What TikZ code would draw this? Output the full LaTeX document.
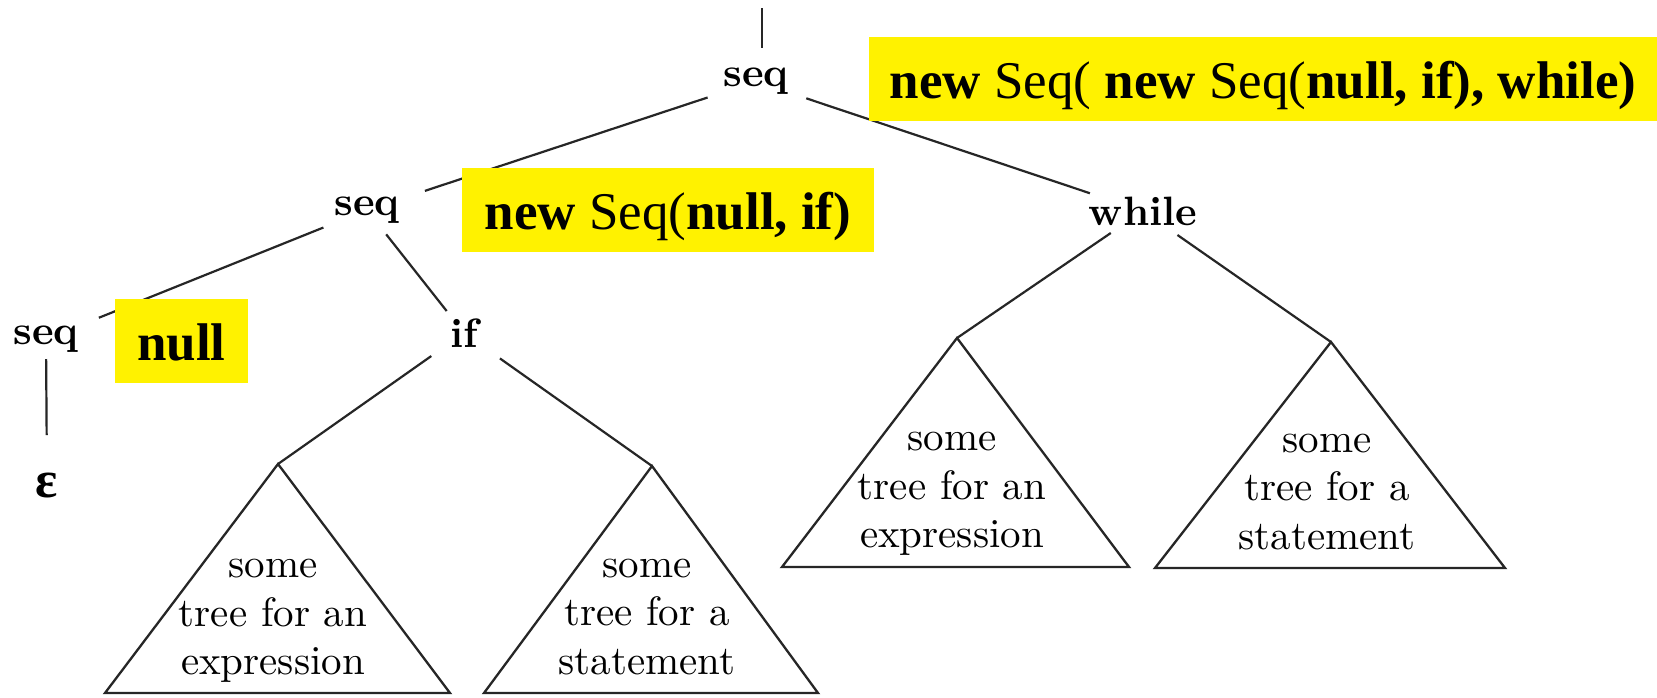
\documentclass[tikz,border=0pt]{standalone}
\usepackage{fontspec}
\setmainfont{lmroman10-regular}[Extension=.otf, BoldFont=lmroman10-bold]
\newfontfamily\tnr{Liberation Serif}
\usetikzlibrary{calc}
\begin{document}
\begin{tikzpicture}[x=1pt,y=-1pt,
  lbl/.style={font=\fontsize{41}{48}\selectfont\bfseries, inner sep=0pt},
  tri/.style={draw=black!85, line width=2.3pt, line join=miter},
  edge/.style={draw=black!85, line width=2.2pt},
  tritext/.style={font=\fontsize{41}{48.5}\selectfont, align=center, inner sep=0pt},
  code/.style={fill=yellow, font=\fontsize{53}{60}\selectfont\tnr, text height=38pt, text depth=0pt, minimum height=84pt, inner sep=0pt, anchor=center},
]
\useasboundingbox (0,0) rectangle (1657,697);
\fill[white] (0,0) rectangle (1657,697);

% labels
\coordinate (top) at (762,8);
\node[lbl] (seq1) at (756,81.5) {seq};
\node[lbl] (seq2) at (367,210) {seq};
\node[lbl] (seq3) at (46,339) {seq};
\node[lbl] (if) at (464,333) {if};
\node[lbl] (while) at (1143,211) {while};
\node[inner sep=0pt, font=\fontsize{52}{60}\selectfont\tnr\bfseries] (eps) at (47,485) {ε};

% triangle apexes
\coordinate (ifLa) at (278,464);
\coordinate (ifRa) at (652,466);
\coordinate (wLa) at (957,338);
\coordinate (wRa) at (1331,342);

\draw[tri] (ifLa) -- (105,693) -- (450,693) -- cycle;
\draw[tri] (ifRa) -- (484,693) -- (818,693) -- cycle;
\draw[tri] (wLa) -- (782,567) -- (1129,567) -- cycle;
\draw[tri] (wRa) -- (1155,568) -- (1505,568) -- cycle;

\node[tritext] (t1) at (273,621) {some\\tree for an\\expression};
\node[tritext] (t2) at (647,617) {some\\tree for a\\statement};
\node[tritext] (t3) at (952,494) {some\\tree for an\\expression};
\node[tritext] (t4) at (1327,492) {some\\tree for a\\statement};

% edges
\draw[edge, shorten >=33.5pt] (top) -- (top |- seq1.center);
\draw[edge, shorten <=51pt, shorten >=61pt] (seq1.center) -- (seq2.center);
\draw[edge, shorten <=53pt, shorten >=56pt] (seq1.center) -- (while.center);
\draw[edge, shorten <=47pt, shorten >=57pt] (seq2.center) -- (seq3.center);
\draw[edge, shorten <=31pt, shorten >=28pt] (seq2.center) -- (if.center);
\draw[edge, shorten <=20pt, shorten >=50pt] (seq3.center) -- (eps.center);
\draw[edge, shorten <=40pt] (if.center) -- (ifLa);
\draw[edge, shorten <=44pt] (if.center) -- (ifRa);
\draw[edge, shorten <=39pt] (while.center) -- (wLa);
\draw[edge, shorten <=42pt] (while.center) -- (wRa);

% yellow annotation boxes
\node[code, minimum width=788pt] (c1) at (1263,79) {\textbf{new} Seq( \textbf{new} Seq(\textbf{null, if), while)}};
\node[code, minimum width=412pt] (c2) at (668,210) {\textbf{new} Seq(\textbf{null, if)}};
\node[code, minimum width=133pt] (c3) at (181.5,341) {\textbf{null}};
\end{tikzpicture}
\end{document}
